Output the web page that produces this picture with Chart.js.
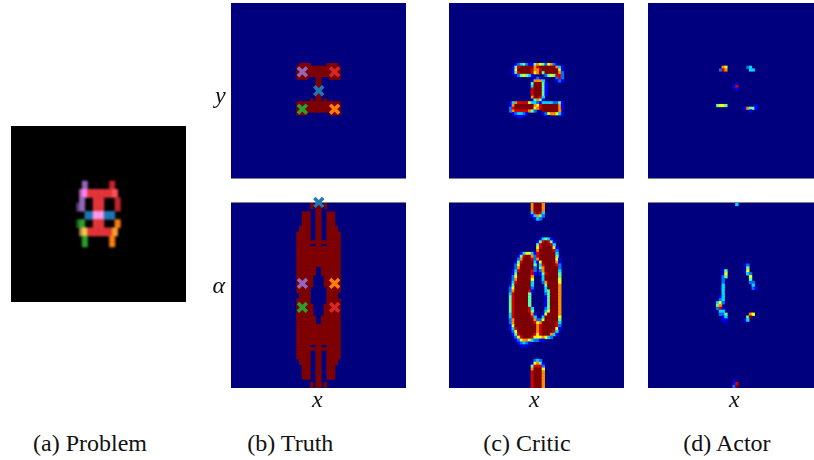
<!DOCTYPE html>
<html>
<head>
<meta charset="utf-8">
<title>Problem, truth, critic, actor</title>
<script src="https://cdn.jsdelivr.net/npm/chart.js@4/dist/chart.umd.min.js"></script>
<style>
  html, body { margin: 0; padding: 0; background: #fff; }
  body { position: relative; width: 814px; height: 460px; overflow: hidden; }
  canvas { position: absolute; }
  #problem { background: #000; filter: blur(0.8px); clip-path: inset(10px); }
  .lbl { position: absolute; font: 24px/24px "Liberation Serif", serif; color: #111; white-space: nowrap; }
  .it { font-style: italic; }
</style>
</head>
<body>
<canvas id="problem"></canvas>
<canvas id="truthTop"></canvas>
<canvas id="truthBottom"></canvas>
<canvas id="criticTop"></canvas>
<canvas id="criticBottom"></canvas>
<canvas id="actorTop"></canvas>
<canvas id="actorBottom"></canvas>

<span class="lbl it" style="left:215px;top:83px">y</span>
<span class="lbl it" style="left:212.5px;top:273px">α</span>
<span class="lbl it" style="left:312px;top:387px">x</span>
<span class="lbl it" style="left:529px;top:387px">x</span>
<span class="lbl it" style="left:729px;top:387px">x</span>
<span class="lbl" style="left:33px;top:430.5px">(a) Problem</span>
<span class="lbl" style="left:247.3px;top:430.5px">(b) Truth</span>
<span class="lbl" style="left:483.3px;top:430.5px">(c) Critic</span>
<span class="lbl" style="left:683.3px;top:430.5px">(d) Actor</span>

<script>
// every cell list below is [firstRow, lastRow, firstCol, "values"] on the 64x64 grid
// digits are jet levels, "." leaves the background showing
const jetColors = { 1: "#0000c4", 2: "#0000ff", 3: "#0070ff", 4: "#00d8ff", 5: "#60ffa0", 6: "#f0ff10", 7: "#ff8c00", 8: "#d80000", 9: "#7f0000" };

const problemColors = {
  P: "#9467bd", p: "#5c4078", R: "#c6252b", r: "#e5353a", M: "#ff80ee", m: "#b060b0", L: "#ff5058",
  B: "#1f77b4", K: "#ff99ee", G: "#2ca02c", g: "#1c661c", O: "#ff7f0e", Y: "#ffc850", y: "#a08a40", U: "#ffa030",
};

const problemCells = [
  [20, 22, 26, "PP........RR"],
  [23, 25, 25, "mMMrrrrrrrrrLL"],
  [26, 27, 25, "PP...rrrr....RR"],
  [28, 30, 24, "pPP...rrrr....RR"],
  [31, 33, 27, "BBBKKKKBBBB"],
  [34, 36, 24, "gGG...rrrr....OO"],
  [37, 39, 25, "yYYrrrrrrrrrUU"],
  [40, 43, 26, "GG........OO"],
];

const truthTopCells = [
  [22, 22, 25, "9999......9999"],
  [23, 26, 24, "9999999999999999"],
  [27, 27, 24, "9999...99...9999"],
  [28, 34, 31, "99"],
  [35, 35, 29, "9.99.9"],
  [36, 39, 24, "9999999999999999"],
  [40, 40, 24, "9999........9999"],
];

const truthBottomCells = [
  [0, 1, 29, "9.99.9"],
  [2, 2, 31, "99"],
  [3, 7, 26, "999..99..999"],
  [8, 9, 25, "9999..99..9999"],
  [10, 12, 24, "99999..99..99999"],
  [13, 13, 24, "9999999999999999"],
  [14, 14, 24, "99999..99..99999"],
  [15, 21, 24, "9999999999999999"],
  [22, 24, 24, "9999999..9999999"],
  [25, 28, 24, "999999....999999"],
  [29, 30, 24, "99999......99999"],
  [31, 32, 25, "9999......9999"],
  [33, 34, 24, "99999......99999"],
  [35, 38, 24, "999999....999999"],
  [39, 41, 24, "9999999..9999999"],
  [42, 48, 24, "9999999999999999"],
  [49, 49, 24, "99999..99..99999"],
  [50, 50, 24, "9999999999999999"],
  [51, 53, 24, "99999..99..99999"],
  [54, 55, 25, "9999..99..9999"],
  [56, 60, 26, "999..99..999"],
  [61, 61, 31, "99"],
  [62, 63, 29, "9.99.9"],
];

const criticTopCells = [
  [22, 22, 24, "2345322576536732"],
  [23, 23, 23, "2589999978999999742"],
  [24, 24, 23, "2699999877899999962"],
  [25, 25, 23, "2589999867959999973"],
  [26, 26, 24, "2356542....3565883"],
  [27, 27, 31, "232.....383"],
  [28, 28, 30, "27774....232"],
  [29, 29, 30, "599952"],
  [30, 30, 30, "499952"],
  [31, 33, 30, "899952"],
  [34, 34, 30, "79984"],
  [35, 35, 30, "25752"],
  [36, 36, 22, "24788886443244443352"],
  [37, 37, 22, "27999999976899999972"],
  [38, 38, 22, "38999999967899999972"],
  [39, 39, 22, "3788888753..9999997"],
  [40, 40, 23, "234432.....23677642"],
  [41, 41, 24, "122.........1"],
];

const criticBottomCells = [
  [0, 2, 30, "79997"],
  [3, 3, 30, "48984"],
  [4, 4, 30, "24753"],
  [5, 5, 31, "243"],
  [12, 12, 33, "24542"],
  [13, 13, 32, "2589852"],
  [14, 14, 32, "5899984"],
  [15, 15, 32, "68999962"],
  [16, 16, 32, "79999983"],
  [17, 17, 26, "24664289999994"],
  [18, 18, 25, "258997389999995"],
  [19, 19, 25, "3799983799999962"],
  [20, 20, 24, "25899994269999972"],
  [21, 21, 24, "36999995.48999983"],
  [22, 22, 24, "37999993.57999993"],
  [23, 23, 23, "248999983.37999994"],
  [24, 24, 23, "259999982.25899995"],
  [25, 25, 23, "36999997...4999995"],
  [26, 26, 23, "37999996...4999996"],
  [27, 27, 23, "48999994...3799996"],
  [28, 28, 22, "259999994....599997"],
  [29, 29, 22, "369999993....499997"],
  [30, 30, 22, "379999982....459997"],
  [31, 31, 22, "48999995.....359997"],
  [32, 35, 22, "58999995.....259997"],
  [36, 36, 22, "589999984....359997"],
  [37, 37, 22, "589999985....469997"],
  [38, 38, 22, "4899999972..2699997"],
  [39, 39, 22, "4899999984..4999996"],
  [40, 40, 22, "3799999997336999995"],
  [41, 41, 22, "3799999998679999984"],
  [42, 42, 22, "2699999999789999983"],
  [43, 43, 22, "2489999999789999962"],
  [44, 44, 23, "36999999978999984"],
  [45, 45, 23, "25899999868999742"],
  [46, 46, 24, "36899986667643"],
  [47, 47, 24, "23677643322"],
  [48, 48, 25, "23432"],
  [49, 49, 26, "121"],
  [54, 54, 31, "343"],
  [55, 55, 30, "26752"],
  [56, 56, 30, "58883"],
  [57, 57, 30, "79996"],
  [58, 63, 30, "89997"],
];

const actorTopCells = [
  [23, 23, 27, "76"],
  [24, 24, 26, "387"],
  [23, 23, 36, "34"],
  [24, 24, 37, "44"],
  [29, 29, 32, "1"],
  [30, 30, 31, "28"],
  [31, 31, 32, "2"],
  [37, 37, 25, "5665"],
  [37, 37, 39, "2"],
  [38, 38, 35, "27552"],
  [39, 39, 37, "2"],
];

const actorBottomCells = [
  [0, 0, 32, "4"],
  [21, 21, 35, "23"],
  [22, 22, 36, "5"],
  [23, 23, 35, "26"],
  [24, 24, 36, "43"],
  [25, 25, 37, "6"],
  [26, 26, 37, "5"],
  [27, 27, 37, "33"],
  [28, 28, 38, "4"],
  [29, 29, 38, "32"],
  [23, 23, 27, "25"],
  [24, 24, 27, "26"],
  [25, 25, 27, "35"],
  [26, 27, 27, "3"],
  [28, 31, 27, "4"],
  [32, 32, 26, "24"],
  [33, 33, 26, "34"],
  [34, 34, 25, "463"],
  [35, 35, 25, "57"],
  [36, 36, 25, "382"],
  [37, 37, 26, "44"],
  [38, 38, 26, "335"],
  [39, 39, 27, "24"],
  [40, 40, 27, "22"],
  [41, 41, 28, "1"],
  [38, 38, 37, "76"],
  [39, 39, 36, "59"],
  [40, 40, 35, "24"],
  [61, 61, 31, "1"],
  [62, 62, 31, "28"],
  [63, 63, 31, "39"],
];

// purple, red, blue, green, orange
const markerColors = ["#9467bd", "#d62728", "#1f77b4", "#2ca02c", "#ff7f0e"];
const topMarkerX = [26.1, 37.9, 32.1, 26.1, 37.9];
const topMarkerY = [25.2, 25.2, 32.1, 38.8, 38.8];
const bottomMarkerX = [26.1, 37.9, 32.1, 26.1, 37.9];
const bottomMarkerY = [27.8, 36.1, -0.2, 36.1, 27.8];

const PAD = 10;

const panelFrame = {
  id: "panelFrame",
  beforeDatasetsDraw(chart, args, opts) {
    const a = chart.chartArea;
    const ctx = chart.ctx;
    ctx.save();
    ctx.fillStyle = opts.background;
    ctx.fillRect(a.left, a.top, a.width, a.height);
    if (opts.edge) {
      ctx.fillStyle = "#808080";
      ctx.fillRect(a.left, opts.edge === "top" ? a.top - 1 : a.bottom, a.width, 1);
    }
    ctx.restore();
  },
};

function buildCells(list, palette) {
  const points = [];
  const colors = [];
  list.forEach(([first, last, col, values]) => {
    for (let row = first; row <= last; row++) {
      [...values].forEach((v, i) => {
        if (v === ".") return;
        points.push({ x: col + i + 0.5, y: row + 0.5 });
        colors.push(palette[v]);
      });
    }
  });
  return { points, colors };
}

function drawPanel(id, left, top, width, height, list, palette, background, edge, markerX, markerY) {
  const canvas = document.getElementById(id);
  canvas.width = width + PAD * 2;
  canvas.height = height + PAD * 2;
  canvas.style.width = canvas.width + "px";
  canvas.style.height = canvas.height + "px";
  canvas.style.left = left - PAD + "px";
  canvas.style.top = top - PAD + "px";

  const cells = buildCells(list, palette);
  const datasets = [];
  if (markerX) {
    datasets.push({
      data: markerX.map((x, i) => ({ x: x, y: markerY[i] })),
      pointStyle: "crossRot",
      pointRadius: 6.3,
      pointBorderWidth: 3.5,
      pointBorderColor: markerColors,
      clip: false,
    });
  }
  datasets.push({
    data: cells.points,
    pointStyle: "rect",
    pointRadius: Math.max(width, height) / 64 * 0.82,
    pointBorderWidth: 0,
    pointBackgroundColor: cells.colors,
    clip: 0,
  });

  new Chart(canvas, {
    type: "scatter",
    data: { datasets: datasets },
    plugins: [panelFrame],
    options: {
      responsive: false,
      animation: false,
      devicePixelRatio: 1,
      layout: { padding: PAD },
      events: [],
      plugins: {
        legend: { display: false },
        tooltip: { enabled: false },
        panelFrame: { background: background, edge: edge },
      },
      scales: {
        x: { type: "linear", display: false, min: 0, max: 64 },
        y: { type: "linear", display: false, min: 0, max: 64, reverse: true },
      },
    },
  });
}

const navy = "#00007f";
drawPanel("problem", 11, 126, 175, 176, problemCells, problemColors, "#000000", null);
drawPanel("truthTop", 231, 3, 175, 175, truthTopCells, jetColors, navy, "bottom", topMarkerX, topMarkerY);
drawPanel("truthBottom", 231, 203, 175, 185.5, truthBottomCells, jetColors, navy, "top", bottomMarkerX, bottomMarkerY);
drawPanel("criticTop", 449, 3, 175, 175, criticTopCells, jetColors, navy, "bottom");
drawPanel("criticBottom", 449, 203, 175, 185.5, criticBottomCells, jetColors, navy, "top");
drawPanel("actorTop", 648, 3, 175, 175, actorTopCells, jetColors, navy, "bottom");
drawPanel("actorBottom", 648, 203, 175, 185.5, actorBottomCells, jetColors, navy, "top");
</script>
</body>
</html>
